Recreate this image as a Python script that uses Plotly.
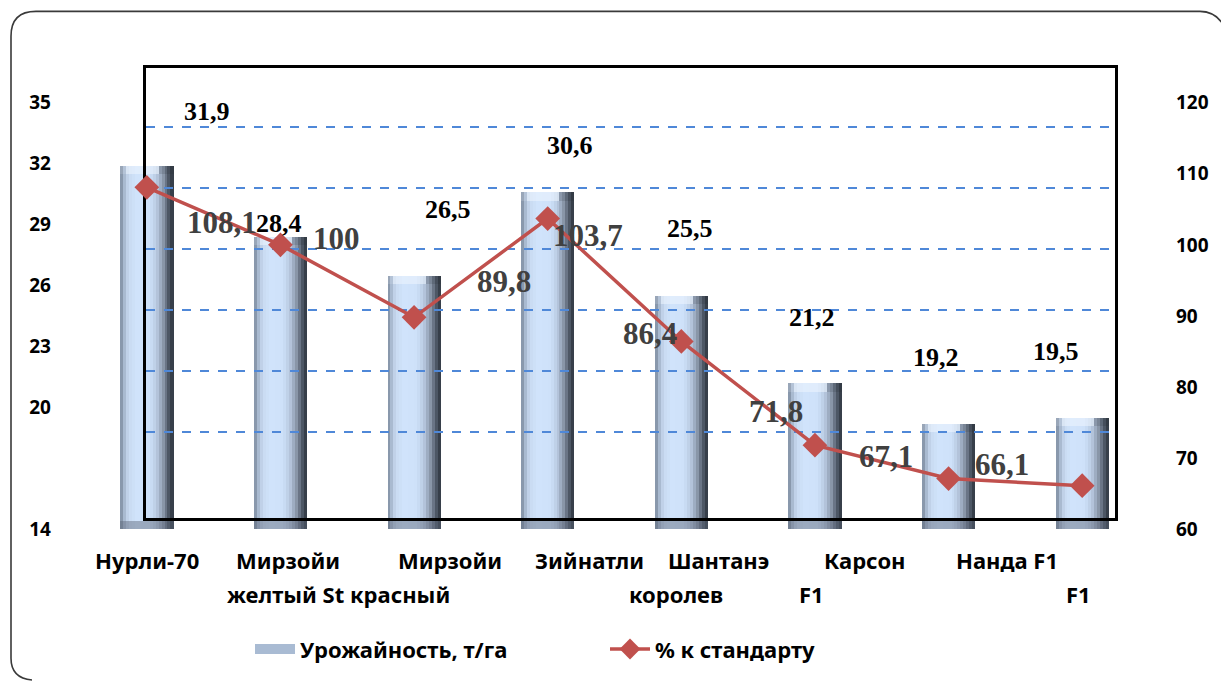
import plotly.graph_objects as go

# ---------------- data ----------------
categories = ["Нурли-70", "Мирзойи желтый St", "Мирзойи красный", "Зийнатли",
              "Шантанэ королев", "Карсон F1", "Нанда F1", "F1"]
yield_t_ha = [31.9, 28.4, 26.5, 30.6, 25.5, 21.2, 19.2, 19.5]
pct_standard = [108.1, 100, 89.8, 103.7, 86.4, 71.8, 67.1, 66.1]
yield_labels = ["31,9", "28,4", "26,5", "30,6", "25,5", "21,2", "19,2", "19,5"]
pct_labels = ["108,1", "100", "89,8", "103,7", "86,4", "71,8", "67,1", "66,1"]
left_ticks = [14, 20, 23, 26, 29, 32, 35]
right_ticks = [60, 70, 80, 90, 100, 110, 120]
label_row1 = ["Нурли-70", "Мирзойи", "Мирзойи", "Зийнатли", "Шантанэ", "Карсон", "Нанда F1"]
label_row2 = ["желтый St красный", "королев", "F1", "F1"]
series_names = ["Урожайность, т/га", "% к стандарту"]

# ---------------- layout geometry (pixels) ----------------
W, H = 1221, 682
PL, PR, PT, PB = 80, 1149, 68, 532       # paper area
def X(px):
    return (px - PL) / (PR - PL)
def Y(py):
    return (PB - py) / (PB - PT)

main_dom_y = [0, Y(103)]
rect_dom_x = [X(146), X(1115)]
rect_dom_y = [Y(521), 1]
grid_levels = [18.8, 21.8, 24.8, 27.8, 30.8, 33.8]   # decorative dashed lines

# label placements (pixel offsets / centres) -- styling only
bar_lbl_dx = [60, -1, 34, 22, 9, -3, -13, -26]
bar_lbl_dy = [54, 13, 66, 47, 67, 65, 66, 66]
pct_lbl_dx = [75, 56, 90, 40, -31, -39, -63, -80]
pct_lbl_dy = [-35, 6, 36, -17, 8, 34, 22, 21]
row1_px = [147, 288, 450, 589, 718, 865, 1007]
row2_px = [338, 676, 811, 1078]

FONT_SANS = "Noto Sans"
FONT_SERIF = "Liberation Serif"

fig = go.Figure()

# ---------------- bars: gradient "cylinder" from vertical slices ----------------
profile = [
    (0.00, (118, 131, 150)),
    (0.06, (160, 176, 198)),
    (0.16, (200, 218, 241)),
    (0.30, (208, 227, 251)),
    (0.55, (206, 225, 249)),
    (0.68, (184, 201, 224)),
    (0.80, (140, 153, 172)),
    (0.90, (84, 94, 109)),
    (1.00, (44, 51, 61)),
]

def col_at(t):
    for (t0, c0), (t1, c1) in zip(profile[:-1], profile[1:]):
        if t0 <= t <= t1:
            f = (t - t0) / (t1 - t0) if t1 > t0 else 0
            return tuple(c0[i] + (c1[i] - c0[i]) * f for i in range(3))
    return profile[-1][1]

def mix(c, d, f):
    return tuple(c[i] + (d[i] - c[i]) * f for i in range(3))

def rgb(c):
    return "rgb(%d,%d,%d)" % tuple(int(round(v)) for v in c)

BW = 0.397       # bar width in category units
N = 18
cap = 0.42       # bevel height in y units
sw = BW / N
for k in range(N):
    t = (k + 0.5) / N
    c = col_at(t)
    off = -BW / 2 + k * sw
    fig.add_trace(go.Bar(
        x=categories, y=yield_t_ha, width=sw * 1.08, offset=off,
        marker=dict(color=rgb(c), line=dict(width=0)),
        name=series_names[0], showlegend=False, legendgroup="bars",
        hoverinfo="skip", xaxis="x", yaxis="y"))
for k in range(N):
    t = (k + 0.5) / N
    c = col_at(t)
    edge = min(t, 1 - t)
    f = 0.55 if edge > 0.12 else 0.15
    top_c = mix(c, (238, 245, 254), f) if t < 0.75 else mix(c, (30, 35, 42), 0.15)
    bot_c = mix(c, (90, 100, 118), 0.45)
    off = -BW / 2 + k * sw
    fig.add_trace(go.Bar(
        x=categories, y=[cap] * len(yield_t_ha),
        base=[v - cap for v in yield_t_ha], width=sw * 1.08, offset=off,
        marker=dict(color=rgb(top_c), line=dict(width=0)),
        showlegend=False, legendgroup="bars", hoverinfo="skip",
        xaxis="x", yaxis="y"))
    fig.add_trace(go.Bar(
        x=categories, y=[cap] * len(yield_t_ha),
        base=[left_ticks[0]] * len(yield_t_ha), width=sw * 1.08, offset=off,
        marker=dict(color=rgb(bot_c), line=dict(width=0)),
        showlegend=False, legendgroup="bars", hoverinfo="skip",
        xaxis="x", yaxis="y"))

# legend entry for the bar series (wide bevelled swatch look)
fig.add_trace(go.Scatter(x=[None], y=[None], mode="lines", name=series_names[0],
                         line=dict(color="#a9bbd3", width=13), legendgroup="bars",
                         hoverinfo="skip", xaxis="x", yaxis="y"))

# empty trace so the framed grid subplot (x2/y2) is created
fig.add_trace(go.Scatter(x=[None], y=[None], mode="markers", showlegend=False,
                         hoverinfo="skip", xaxis="x2", yaxis="y2"))

# ---------------- line ----------------
fig.add_trace(go.Scatter(
    x=categories, y=pct_standard, mode="lines+markers",
    name=series_names[1],
    line=dict(color="#c0504d", width=3.5),
    marker=dict(symbol="diamond", size=19, color="#c0504d"),
    xaxis="x3", yaxis="y3"))

# ---------------- annotations ----------------
ann = []
for i, cat in enumerate(categories):
    ann.append(dict(x=cat, y=yield_t_ha[i], xref="x", yref="y",
                    text=yield_labels[i], showarrow=False,
                    xshift=bar_lbl_dx[i], yshift=bar_lbl_dy[i],
                    font=dict(family=FONT_SERIF, size=26, color="black", weight="bold")))
    ann.append(dict(x=cat, y=pct_standard[i], xref="x3", yref="y3",
                    text=pct_labels[i], showarrow=False,
                    xshift=pct_lbl_dx[i], yshift=pct_lbl_dy[i],
                    font=dict(family=FONT_SERIF, size=31, color="#404040", weight="bold")))
for txt, px in zip(label_row1, row1_px):
    ann.append(dict(x=X(px), y=Y(563), xref="paper", yref="paper", text=txt,
                    showarrow=False, xanchor="center", yanchor="middle",
                    font=dict(family=FONT_SANS, size=22, color="black", weight="bold")))
for txt, px in zip(label_row2, row2_px):
    ann.append(dict(x=X(px), y=Y(597), xref="paper", yref="paper", text=txt,
                    showarrow=False, xanchor="center", yanchor="middle",
                    font=dict(family=FONT_SANS, size=22, color="black", weight="bold")))

# outer rounded frame
frame = ("M {a},{b} Q {c},{d} {c},{e} L {c},{f} Q {c},{g} {h},{g} "
         "L {i},{g} Q {j},{g} {k},{l}").format(
    a=X(32), b=Y(684), c=X(11), d=Y(682), e=Y(662), f=Y(36), g=Y(11), h=X(36),
    i=X(1200), j=X(1218), k=X(1226), l=Y(30))

tick_font = dict(family=FONT_SANS, size=19, color="black", weight="bold")

fig.update_layout(
    width=W, height=H,
    margin=dict(l=PL, r=W - PR, t=PT, b=H - PB),
    paper_bgcolor="white", plot_bgcolor="rgba(0,0,0,0)",
    barmode="overlay", bargap=0,
    showlegend=True,
    legend=dict(orientation="h", x=X(250), y=Y(653), xanchor="left", yanchor="middle",
                font=dict(family=FONT_SANS, size=22, color="black", weight="bold"),
                entrywidth=300, itemwidth=40, bgcolor="rgba(0,0,0,0)"),
    xaxis=dict(domain=[0, 1], range=[-0.5, 7.5], type="category",
               showticklabels=False, showgrid=False, zeroline=False, showline=False,
               ticks=""),
    yaxis=dict(domain=main_dom_y, range=[14, 35], tickvals=left_ticks,
               showgrid=False, zeroline=False, showline=False, ticks="",
               tickfont=tick_font, ticklabelstandoff=28),
    xaxis2=dict(domain=rect_dom_x, range=[0, 1], anchor="y2",
                showticklabels=False, showgrid=False, zeroline=False,
                showline=True, mirror=True, linecolor="black", linewidth=2.5, ticks=""),
    yaxis2=dict(domain=rect_dom_y, anchor="x2",
                range=[14 + (532 - 521) / 20.43, 14 + (532 - 68) / 20.43],
                tickvals=grid_levels, showticklabels=False, ticks="",
                showgrid=True, gridcolor="#4f88d8", gridwidth=1.6, griddash="dash",
                zeroline=False, showline=True, mirror=True, linecolor="black", linewidth=2.5),
    xaxis3=dict(domain=[0, 1], range=[-0.5, 7.5], type="category", anchor="y3",
                showticklabels=False, showgrid=False, zeroline=False, showline=False,
                ticks=""),
    yaxis3=dict(domain=main_dom_y, range=[60, 120], tickvals=right_ticks, anchor="x3",
                side="right", showgrid=False, zeroline=False, showline=False, ticks="",
                tickfont=tick_font, ticklabelstandoff=26),
    annotations=ann,
    shapes=[dict(type="path", path=frame, xref="paper", yref="paper",
                 line=dict(color="#3a3a3a", width=1.6), fillcolor="rgba(0,0,0,0)")],
)

fig.write_html("out.html", config={"displayModeBar": False},
               post_script="document.body.style.margin='0';")
